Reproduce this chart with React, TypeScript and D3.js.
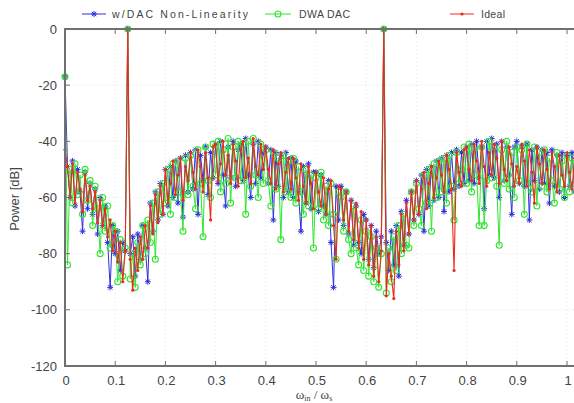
import React from 'react';
import * as d3 from 'd3';

// ---------- data ----------
const BIN_STEP = 0.005; // normalised frequency spacing of the FFT bins
const X_TICKS = [0, 0.1, 0.2, 0.3, 0.4, 0.5, 0.6, 0.7, 0.8, 0.9, 1];
const X_TICK_LABELS = ['0', '0.1', '0.2', '0.3', '0.4', '0.5', '0.6', '0.7', '0.8', '0.9', '1'];
const Y_TICKS = [0, -20, -40, -60, -80, -100, -120];
const SERIES_NAMES = ['w/DAC Non-Linearity', 'DWA DAC', 'Ideal'];

const NONLIN = [
  -17, -49, -60, -47, -63, -50, -58, -72, -51, -64,
  -55, -66, -57, -73, -60, -70, -63, -76, -92, -70,
  -80, -72, -86, -76, -79, 0, -80, -74, -88, -73,
  -82, -70, -78, -90, -62, -72, -58, -68, -55, -66,
  -50, -63, -49, -60, -47, -62, -46, -67, -45, -58,
  -44, -57, -43, -66, -45, -54, -42, -59, -44, -53,
  -41, -55, -40, -52, -63, -42, -53, -40, -56, -43,
  -41, -54, -39, -52, -60, -41, -55, -40, -53, -44,
  -42, -55, -43, -68, -44, -56, -45, -60, -44, -58,
  -46, -60, -47, -58, -72, -49, -62, -48, -64, -51,
  -51, -65, -52, -63, -66, -54, -76, -92, -56, -68,
  -56, -70, -58, -73, -61, -77, -63, -76, -80, -66,
  -68, -82, -70, -85, -72, -80, -74, 0, -76, -86,
  -72, -84, -70, -88, -65, -77, -61, -73, -58, -68,
  -54, -66, -52, -72, -50, -63, -49, -61, -47, -60,
  -46, -65, -45, -58, -44, -57, -43, -56, -44, -55,
  -42, -54, -41, -55, -40, -53, -42, -64, -40, -52,
  -39, -53, -41, -60, -40, -54, -42, -52, -66, -42,
  -40, -55, -42, -56, -41, -68, -43, -54, -42, -57,
  -43, -55, -44, -62, -43, -56, -45, -58, -44, -60,
  -45, -56, -44, -58, -46,
];

const DWA = [
  -17, -84, -50, -62, -48, -59, -52, -66, -50, -61,
  -54, -70, -56, -64, -80, -60, -72, -63, -78, -70,
  -72, -90, -75, -88, -78, 0, -89, -80, -92, -76,
  -84, -70, -80, -68, -76, -62, -82, -58, -66, -55,
  -62, -50, -66, -48, -60, -47, -58, -72, -46, -59,
  -45, -56, -64, -43, -55, -74, -42, -54, -60, -41,
  -52, -40, -58, -43, -55, -39, -62, -42, -53, -40,
  -54, -41, -66, -40, -56, -39, -52, -60, -41, -55,
  -43, -54, -63, -44, -57, -46, -75, -45, -58, -47,
  -60, -46, -62, -49, -58, -66, -50, -63, -52, -78,
  -53, -64, -51, -68, -56, -70, -55, -66, -82, -58,
  -60, -72, -58, -75, -80, -63, -78, -84, -68, -86,
  -72, -88, -74, -90, -78, -92, -80, 0, -94, -78,
  -90, -74, -86, -70, -80, -66, -77, -78, -58, -70,
  -55, -64, -70, -52, -62, -50, -72, -48, -60, -47,
  -58, -46, -62, -45, -56, -68, -44, -55, -50, -42,
  -55, -41, -58, -43, -52, -70, -42, -70, -54, -40,
  -53, -42, -56, -77, -43, -55, -40, -57, -44, -60,
  -42, -54, -43, -66, -41, -55, -58, -42, -63, -44,
  -56, -43, -58, -46, -54, -62, -44, -57, -47, -60,
  -45, -58, -46, -55, -48,
];

const IDEAL = [
  -43, -49, -60, -48, -62, -51, -57, -65, -52, -61,
  -56, -64, -58, -69, -61, -70, -64, -74, -68, -79,
  -72, -83, -76, -90, -79, 0, -82, -93, -78, -86,
  -74, -82, -70, -78, -63, -73, -59, -69, -56, -66,
  -50, -62, -55, -47, -59, -52, -46, -61, -49, -54,
  -44, -51, -57, -43, -49, -58, -44, -53, -68, -42,
  -41, -54, -48, -40, -52, -45, -55, -41, -47, -56,
  -43, -40, -53, -46, -55, -39, -49, -52, -41, -50,
  -42, -50, -55, -43, -57, -48, -44, -58, -51, -46,
  -57, -46, -53, -61, -48, -56, -62, -49, -55, -64,
  -51, -58, -63, -53, -66, -57, -54, -70, -82, -56,
  -57, -68, -58, -72, -61, -75, -62, -78, -65, -82,
  -68, -84, -70, -88, -74, -90, -79, 0, -95, -80,
  -88, -96, -72, -84, -66, -79, -62, -73, -58, -68,
  -54, -66, -57, -51, -64, -55, -49, -60, -53, -47,
  -52, -58, -45, -50, -57, -86, -44, -51, -56, -43,
  -42, -50, -54, -41, -47, -55, -40, -49, -56, -44,
  -52, -41, -46, -55, -40, -50, -54, -42, -48, -56,
  -49, -55, -41, -47, -56, -43, -51, -62, -42, -48,
  -55, -43, -50, -57, -44, -49, -58, -45, -52, -56,
  -44, -51, -57, -46, -53,
];

// ---------- layout ----------
const W = 574;
const H = 403;
const PLOT_LEFT = 65;
const PLOT_RIGHT_EDGE = 574;
const PLOT_TOP = 29;
const PLOT_BOTTOM = 366;

const COLORS = ['#2e2ee0', '#2fe62f', '#ec2a1a'];
const TEXT_COLOR = '#444';
const FONT = '"Liberation Sans", Arial, sans-serif';

const x = d3.scaleLinear().domain([0, 1]).range([PLOT_LEFT, 567]);
const y = d3.scaleLinear().domain([-120, 0]).range([PLOT_BOTTOM, PLOT_TOP]);

type Pt = { f: number; v: number };
const toPts = (vals: number[]): Pt[] => vals.map((v, i) => ({ f: i * BIN_STEP, v }));
const SERIES = [toPts(NONLIN), toPts(DWA), toPts(IDEAL)];

const line = d3
  .line<Pt>()
  .x((d) => x(d.f))
  .y((d) => y(d.v));

const STAR = 'M-3,0L3,0M0,-3L0,3M-2.2,-2.2L2.2,2.2M-2.2,2.2L2.2,-2.2';

function Marker({ kind, cx, cy, color }: { kind: number; cx: number; cy: number; color: string }) {
  if (kind === 0)
    return <path d={STAR} transform={`translate(${cx},${cy})`} stroke={color} strokeWidth={1} fill="none" />;
  if (kind === 1) return <circle cx={cx} cy={cy} r={3} stroke={color} strokeWidth={1.1} fill="none" />;
  return <circle cx={cx} cy={cy} r={1.6} fill={color} />;
}

const LEGEND = [
  { x0: 82, x1: 106, tx: 112, tw: 136 },
  { x0: 265, x1: 291, tx: 299, tw: 51 },
  { x0: 450, x1: 474, tx: 481, tw: 24 },
];

export default function App() {
  return (
    <svg
      width={W}
      height={H}
      viewBox={`0 0 ${W} ${H}`}
      style={{ position: 'absolute', left: 0, top: 0, background: '#fff' }}
    >
      {/* grid */}
      <g stroke="#d8d8d8" strokeWidth={0.8} strokeDasharray="1,3">
        {X_TICKS.slice(1).map((t) => (
          <line key={'gx' + t} x1={x(t)} x2={x(t)} y1={PLOT_TOP} y2={PLOT_BOTTOM} />
        ))}
        {Y_TICKS.slice(1, -1).map((t) => (
          <line key={'gy' + t} x1={PLOT_LEFT} x2={PLOT_RIGHT_EDGE} y1={y(t)} y2={y(t)} />
        ))}
      </g>

      {/* series */}
      {SERIES.map((pts, si) => (
        <g key={si}>
          <path d={line(pts) || ''} fill="none" stroke={COLORS[si]} strokeWidth={si === 2 ? 1.1 : 1} />
          {pts.map((p, i) => (
            <Marker key={i} kind={si} cx={x(p.f)} cy={y(p.v)} color={COLORS[si]} />
          ))}
        </g>
      ))}

      {/* frame */}
      <g stroke="#707070" strokeWidth={2} fill="none">
        <line x1={PLOT_LEFT} x2={PLOT_LEFT} y1={PLOT_TOP - 1} y2={PLOT_BOTTOM + 1} />
        <line x1={PLOT_LEFT} x2={PLOT_RIGHT_EDGE} y1={PLOT_TOP} y2={PLOT_TOP} />
        <line x1={PLOT_LEFT} x2={PLOT_RIGHT_EDGE} y1={PLOT_BOTTOM} y2={PLOT_BOTTOM} />
      </g>
      <g stroke="#707070" strokeWidth={1}>
        {X_TICKS.slice(1).map((t) => (
          <g key={'tx' + t}>
            <line x1={x(t)} x2={x(t)} y1={PLOT_BOTTOM} y2={PLOT_BOTTOM - 5} />
            <line x1={x(t)} x2={x(t)} y1={PLOT_TOP} y2={PLOT_TOP + 5} />
          </g>
        ))}
        {Y_TICKS.map((t) => (
          <line key={'ty' + t} x1={PLOT_LEFT} x2={PLOT_LEFT + 5} y1={y(t)} y2={y(t)} />
        ))}
      </g>

      {/* tick labels */}
      <g fontFamily={FONT} fontSize={13} fill={TEXT_COLOR}>
        {Y_TICKS.map((t) => (
          <text key={'ly' + t} x={57} y={y(t) + 4.5} textAnchor="end">
            {String(t)}
          </text>
        ))}
        {X_TICKS.map((t, i) => (
          <text key={'lx' + t} x={x(t) + 1} y={385} textAnchor="middle">
            {X_TICK_LABELS[i]}
          </text>
        ))}
      </g>

      {/* axis titles */}
      <text
        transform="translate(19,199) rotate(-90)"
        textAnchor="middle"
        fontFamily={FONT}
        fontSize={13}
        fill={TEXT_COLOR}
      >
        Power [dB]
      </text>
      <text x={314} y={398.5} textAnchor="middle" fontFamily='"Liberation Serif", serif' fontSize={13} fill={TEXT_COLOR}>
        ω
        <tspan fontSize={8} dy={2.5}>in</tspan>
        <tspan dy={-2.5}> / ω</tspan>
        <tspan fontSize={8} dy={2.5}>s</tspan>
      </text>

      {/* legend */}
      {LEGEND.map((l, i) => (
        <g key={'leg' + i}>
          <line x1={l.x0} x2={l.x1} y1={14} y2={14} stroke={COLORS[i]} strokeWidth={1} />
          <Marker kind={i} cx={(l.x0 + l.x1) / 2} cy={14} color={COLORS[i]} />
          <text
            x={l.tx}
            y={18}
            fontFamily={FONT}
            fontSize={10.5}
            fill={TEXT_COLOR}
            textLength={l.tw}
            lengthAdjust="spacing"
          >
            {SERIES_NAMES[i]}
          </text>
        </g>
      ))}
    </svg>
  );
}
